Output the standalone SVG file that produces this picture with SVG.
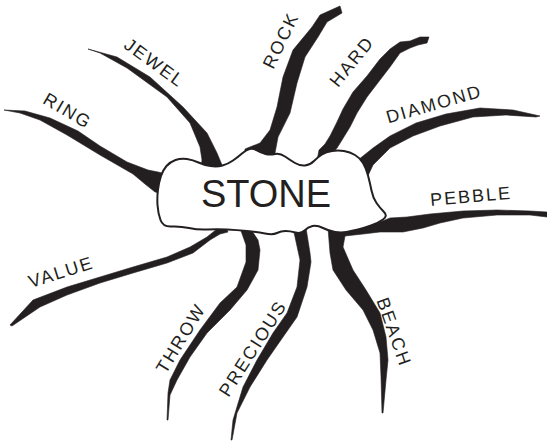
<svg xmlns="http://www.w3.org/2000/svg" width="547" height="441" viewBox="0 0 547 441">
<style>
.br{fill:#231f20;stroke:#231f20;stroke-width:0.6;stroke-linejoin:round}
.lb{font-family:"Liberation Sans",Arial,sans-serif;font-size:18px;letter-spacing:2px;fill:#231f20;text-anchor:middle}
.stone{fill:#fff;stroke:#231f20;stroke-width:2;stroke-linejoin:round}
.title{font-family:"Liberation Sans",Arial,sans-serif;font-size:38px;fill:#231f20;text-anchor:middle}
</style>
<rect width="547" height="441" fill="#fff"/>
<g id="connectors">
<path id="b-ring" class="br" d="M4,110 L25,111 L50,118 L78,131 L100,146 L127,162 L148,170 L158,172 L170,175 L170,195 L155,192 L145,184 L133,174 L100,155 L67,135 L40,120 L20,113 Z"/>
<path id="b-jewel" class="br" d="M88,49 L117,57 L150,77 L183,107 L207,133 L217,153 L222,165 L226,175 L200,175 L202,160 L200,147 L190,123 L167,97 L127,68 L100,53 Z"/>
<path id="b-rock" class="br" d="M340,6 L320,15 L312,27 L293,50 L283,77 L277,107 L270,130 L260,143 L245,149 L245,165 L278,165 L275,153 L278,137 L290,113 L297,83 L305,57 L318,37 L327,22 L342,13 Z"/>
<path id="b-hard" class="br" d="M429,37 L420,37 L410,41 L400,42 L390,49 L380,59 L367,76 L353,92 L343,109 L337,122 L330,136 L325,144 L319,150 L316,166 L338,166 L333,153 L337,148 L342,140 L350,127 L357,113 L367,97 L380,80 L390,67 L400,53 L410,48 L418,45 L427,43 Z"/>
<path id="b-diamond" class="br" d="M540,116 L513,110 L480,108 L446,114 L416,123 L390,136 L373,148 L358,160 L366,180 L373,165 L390,148 L413,136 L440,126 L473,117 L506,115 L536,117 Z"/>
<path id="b-pebble" class="br" d="M547,212 L530,211 L497,210 L463,211 L430,214 L407,217 L390,218 L380,222 L365,227 L352,229 L345,236 L363,234 L380,232 L403,232 L423,228 L440,223 L463,218 L497,215 L530,215 L547,217 Z"/>
<path id="b-beach" class="br" d="M328,228 L330,253 L333,270 L346,290 L363,310 L373,330 L380,353 L381,377 L382,413 L383,413 L386,380 L388,360 L386,337 L380,313 L366,290 L353,270 L343,247 L345,236 L355,228 Z"/>
<path id="b-precious" class="br" d="M306,228 L310,253 L311,262 L307,287 L297,317 L283,337 L267,360 L250,387 L237,413 L232,440 L231,440 L233,420 L243,387 L257,360 L273,333 L287,313 L297,287 L300,260 L295,237 L293,228 Z"/>
<path id="b-throw" class="br" d="M250,228 L258,240 L260,250 L258,270 L247,290 L230,310 L207,333 L190,357 L177,380 L170,395 L168,420 L167,420 L168,393 L170,380 L180,360 L200,330 L220,303 L237,287 L246,262 L246,245 L240,228 Z"/>
<path id="b-value" class="br" d="M10,325 L33,300 L67,287 L100,277 L133,267 L167,257 L190,247 L207,237 L217,229 L225,226 L228,232 L220,234 L210,240 L193,253 L167,263 L133,273 L100,283 L67,295 L40,307 L12,326 Z"/>
</g>
<g id="node-stone">
<path class="stone" d="M161,176 Q163,170 166.5,166 Q170,162 175.5,160 Q181,158 187,159 Q193,160 198.5,162.5 Q204,165 210.5,166 Q217,167 222.5,165.5 Q228,164 233,160.5 Q238,157 242,153.5 Q246,150 249.5,149 Q253,148 257,150.5 Q261,153 265.5,154 Q270,155 275,154 Q280,153 285,156.5 Q290,160 295,163 Q300,166 305,165.5 Q310,165 314,161 Q318,157 322,154.5 Q326,152 332,151 Q338,150 344,151 Q350,152 355,155 Q360,158 363,163 Q366,168 368,175.5 Q370,183 371.5,190.5 Q373,198 376.5,203 Q380,208 384,212 Q388,216 383,219.5 Q378,223 371,225.5 Q364,228 358,229.5 Q352,231 346.5,232 Q341,233 335,232 Q329,231 323,228 Q317,225 312.5,226 Q308,227 304.5,230.5 Q301,234 295.5,232.5 Q290,231 285.5,231 Q281,231 277,233 Q273,235 265,233.5 Q257,232 247,231 Q237,230 227,229.5 Q217,229 207.5,229.5 Q198,230 189,228 Q180,226 171.5,226.5 Q163,227 160.5,220 Q158,213 157.5,205 Q157,197 158,189.5 Q159,182 161,176 Z"/>
<text class="title" x="266" y="207">STONE</text>
</g>
<g id="node-ring" transform="translate(67,110) rotate(30.5)"><text class="lb" x="1" y="6.5">RING</text></g>
<g id="node-jewel" transform="translate(154,62) rotate(36)"><text class="lb" x="1" y="6.5">JEWEL</text></g>
<g id="node-rock" transform="translate(280,41) rotate(-64)"><text class="lb" x="1" y="6.5">ROCK</text></g>
<g id="node-hard" transform="translate(351,62) rotate(-51)"><text class="lb" x="1" y="6.5">HARD</text></g>
<g id="node-diamond" transform="translate(433,104) rotate(-16)"><text class="lb" x="1" y="6.5">DIAMOND</text></g>
<g id="node-pebble" transform="translate(470,196) rotate(-5)"><text class="lb" x="1" y="6.5">PEBBLE</text></g>
<g id="node-value" transform="translate(60,272) rotate(-17.5)"><text class="lb" x="1" y="6.5">VALUE</text></g>
<g id="node-throw" transform="translate(180,339) rotate(-58.6)"><text class="lb" x="1" y="6.5">THROW</text></g>
<g id="node-precious" transform="translate(252,349) rotate(-57.5)"><text class="lb" x="1" y="6.5">PRECIOUS</text></g>
<g id="node-beach" transform="translate(394,331) rotate(70.6)"><text class="lb" x="1" y="6.5">BEACH</text></g>
</svg>
